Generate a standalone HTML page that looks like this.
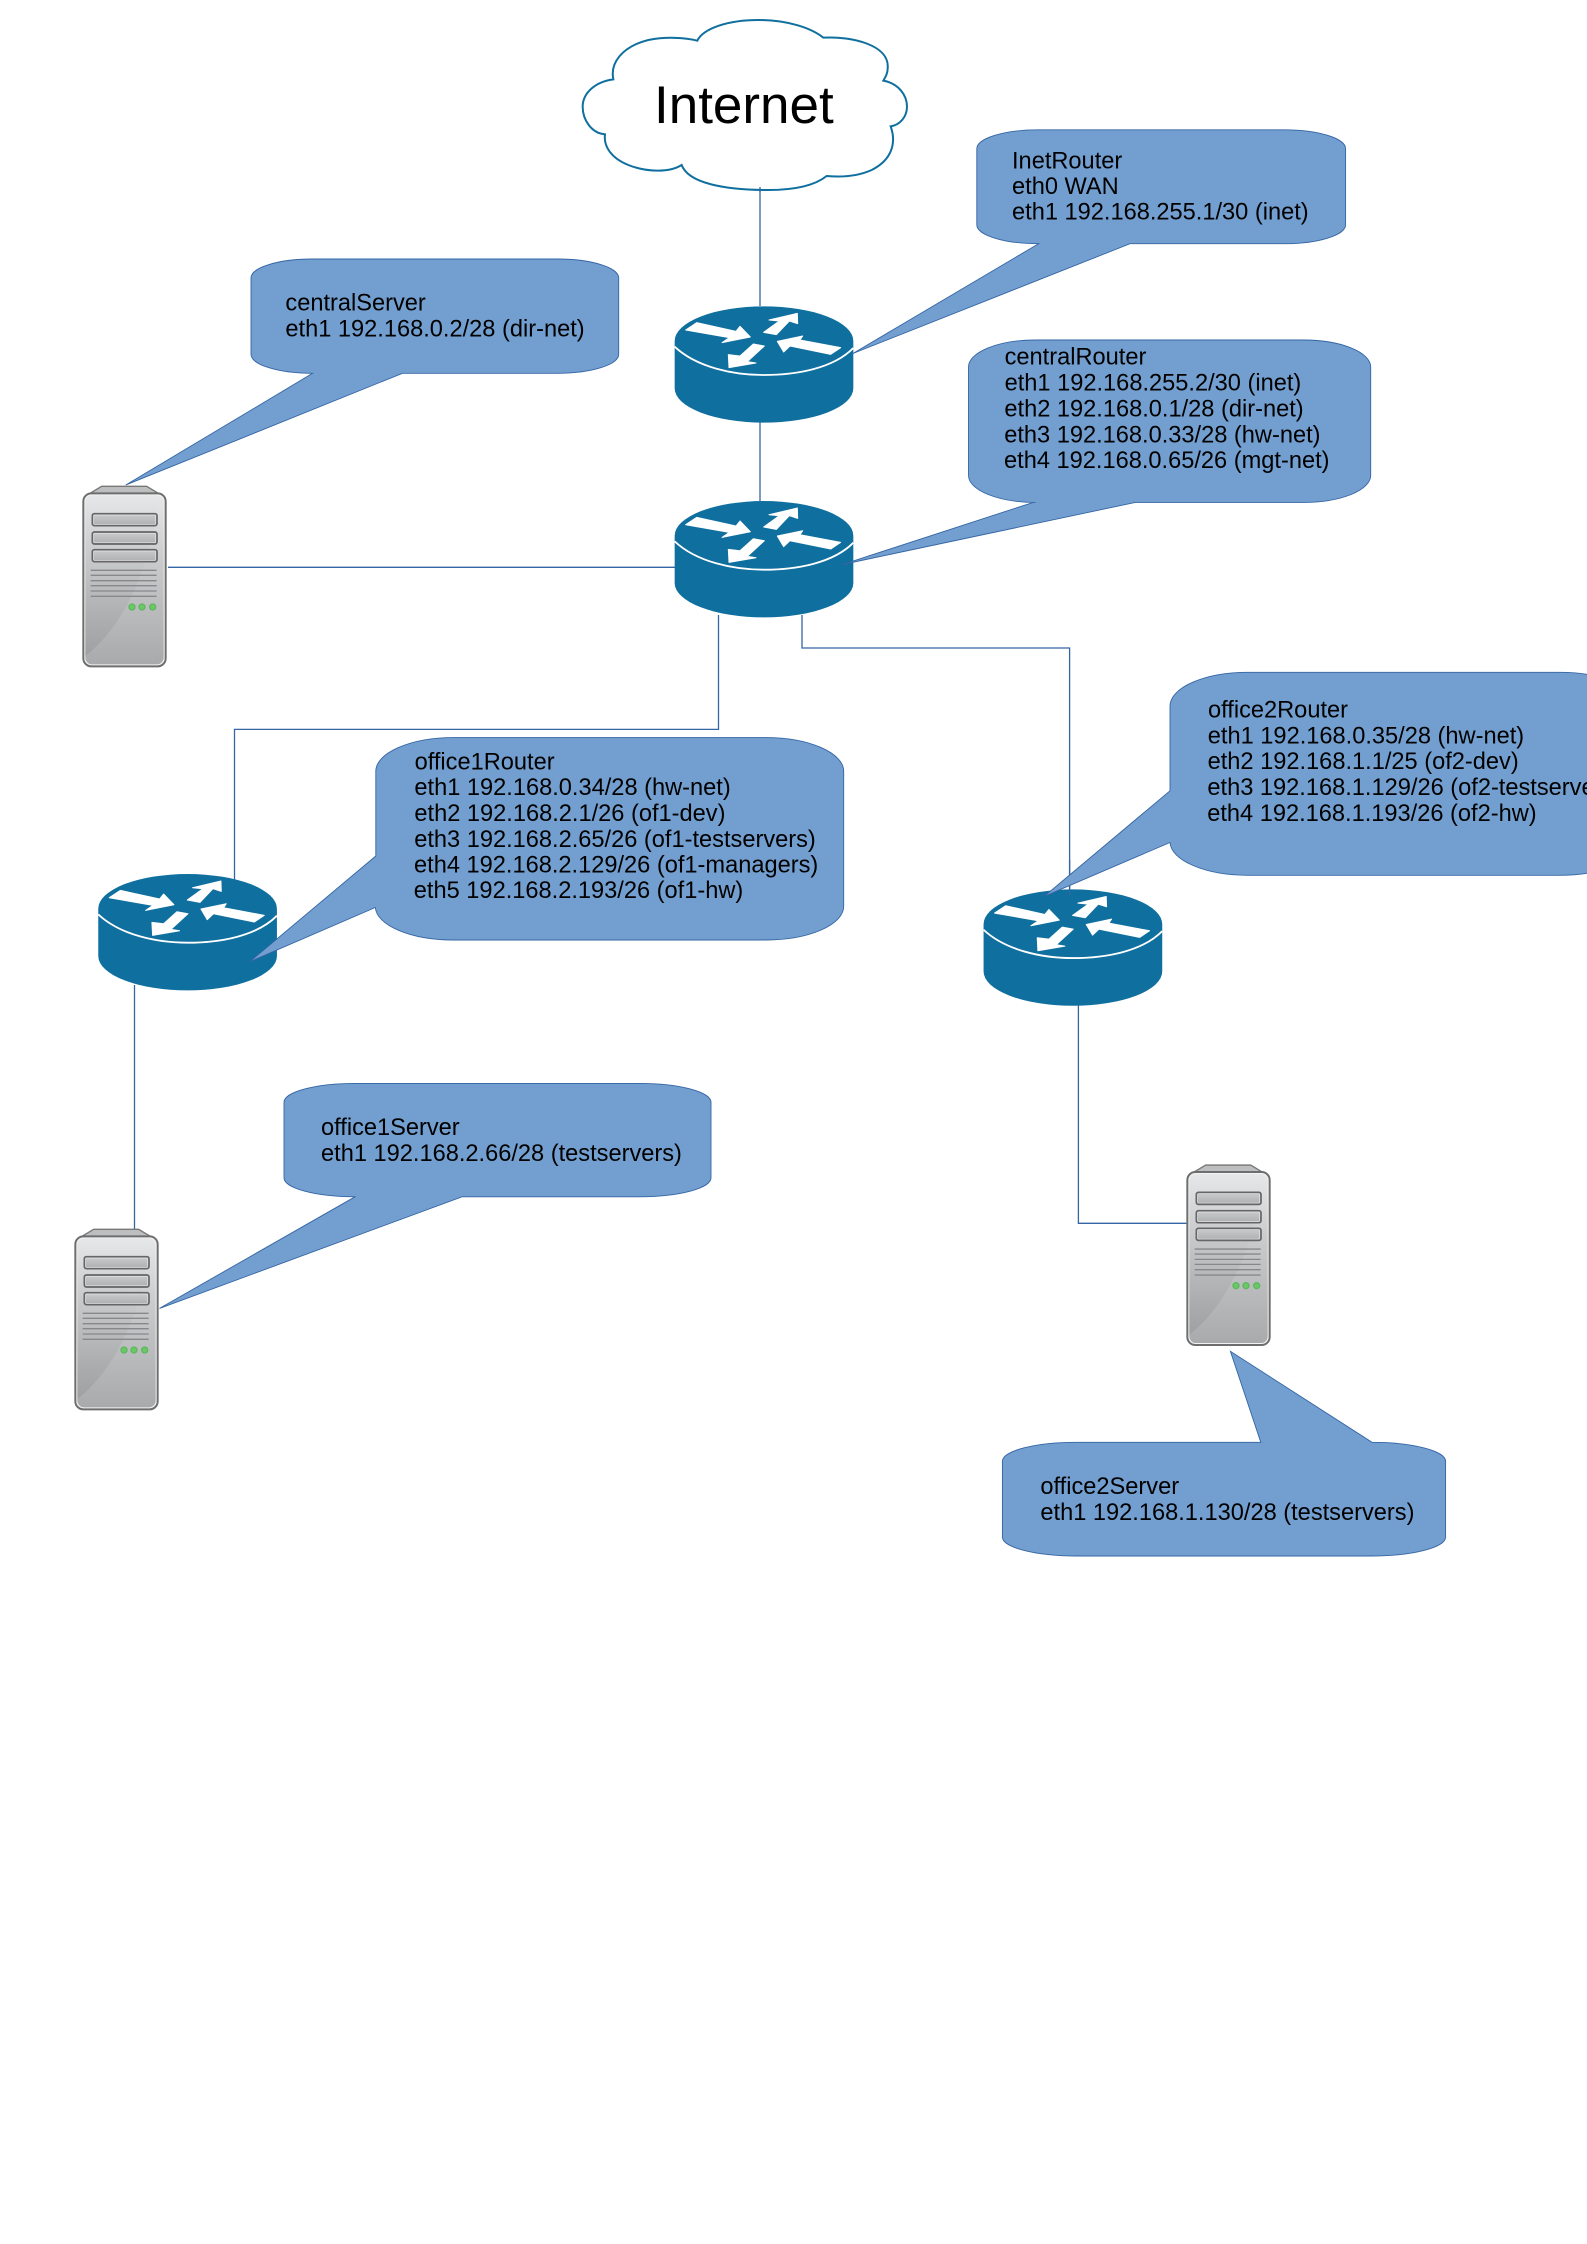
<!DOCTYPE html>
<html>
<head>
<meta charset="utf-8">
<title>Network diagram</title>
<style>
html,body{margin:0;padding:0;background:#fff;}
svg{display:block;}
.t{font-family:"Liberation Sans",sans-serif;font-size:23.62px;fill:#000;}
.b{fill:#729fcf;stroke:#3465a4;stroke-width:.9;}
.l{fill:none;stroke:#3465a4;stroke-width:1.3;}
</style>
</head>
<body>
<svg width="1587" height="2244" viewBox="0 0 1587 2244" xmlns="http://www.w3.org/2000/svg">
<defs>
<linearGradient id="sb" x1="0" y1="0" x2="0" y2="1">
<stop offset="0" stop-color="#e6e7e9"/><stop offset=".4" stop-color="#c9cacc"/><stop offset="1" stop-color="#a9aaac"/>
</linearGradient>
<linearGradient id="sw" x1="0" y1="0" x2="0" y2="1">
<stop offset="0" stop-color="#808183" stop-opacity="0"/><stop offset=".45" stop-color="#808183" stop-opacity=".05"/><stop offset="1" stop-color="#808183" stop-opacity=".28"/>
</linearGradient>
<linearGradient id="bay" x1="0" y1="0" x2="0" y2="1">
<stop offset="0" stop-color="#cbccce"/><stop offset="1" stop-color="#adaeb0"/>
</linearGradient>
<g id="router" transform="scale(.33333)">
<path fill="#0f6f9e" d="M44 153 A268 104 0 0 1 580 153 V295 A268 103 0 0 1 44 295 Z"/>
<path fill="none" stroke="#fff" stroke-width="5.5" d="M44 170 C110 232 220 255 312 255 C410 255 520 235 580 174"/>
<g fill="#fff" stroke="#fff" stroke-width="3" stroke-linejoin="round">
<path d="M77 120 L110 98 L228 124 L240 109 L271 141 L186 158 L208 143 Z"/>
<path d="M311 127 L358 93 L327 90 L412 70 L413 101 L388 93 L349 134 Z"/>
<path d="M352 154 L428 138 L420 150 L542 173 L512 193 L390 168 L371 186 Z"/>
<path d="M313 168 L280 162 L240 198 L205 194 L207 233 L288 219 L262 215 Z"/>
</g>
</g>
<g id="server" transform="scale(.33333)">
<path fill="#bdbec0" stroke="#777" stroke-width="4" d="M60 40 L95 19 L230 19 L265 40 Z"/>
<rect x="40" y="40" width="247" height="519" rx="24" ry="24" fill="#f2f2f3" stroke="#6e6e6e" stroke-width="6"/>
<rect x="46" y="46" width="235" height="507" rx="20" ry="20" fill="url(#sb)"/>
<path fill="url(#sw)" d="M46 528 C140 455 240 300 265 46 H66 Q46 46 46 66 Z"/>
<g fill="url(#bay)" stroke="#666" stroke-width="5">
<rect x="67" y="101" width="194" height="36" rx="6"/>
<rect x="67" y="156" width="194" height="36" rx="6"/>
<rect x="67" y="209" width="194" height="36" rx="6"/>
</g>
<g fill="none" stroke="#e4e4e5" stroke-width="2">
<rect x="71" y="105" width="186" height="28" rx="3"/>
<rect x="71" y="160" width="186" height="28" rx="3"/>
<rect x="71" y="213" width="186" height="28" rx="3"/>
</g>
<g stroke="#87888a" stroke-width="4">
<path d="M62 271H260M62 286H260M62 302H260M62 317H260M62 333H260M62 349H260"/>
</g>
<g fill="#6cc766" stroke="#5cb95c" stroke-width="4">
<circle cx="186" cy="381" r="9"/><circle cx="216" cy="381" r="9"/><circle cx="248" cy="381" r="9"/>
</g>
</g>
</defs>

<rect width="1587" height="2244" fill="#fff"/>

<!-- connectors -->
<path class="l" d="M760 187V306M760 422V501M168 567.3H675M718.5 615V729.4H234.5V880M802 615V648H1069.6V896M134.5 985V1229M1078.4 1005V1223.3H1186.4"/>

<!-- cloud -->
<g transform="translate(575 10) scale(.33333)">
<path fill="#fff" stroke="#0f6f9e" stroke-width="6" stroke-linejoin="miter" d="M367 92 C385 55 460 30 550 30 C640 30 710 55 745 83 C830 78 945 105 938 175 C938 190 932 200 925 212 C970 220 996 255 996 290 C996 320 975 345 947 349 C965 400 950 450 890 480 C850 498 800 502 755 498 C715 530 650 540 580 540 C450 540 340 520 320 465 C280 490 210 485 160 465 C110 445 85 410 90 373 C50 370 23 330 23 290 C23 250 60 215 115 208 C105 160 140 110 220 90 C270 80 330 82 367 92 Z"/>
</g>
<path class="l" d="M760 187V192"/>
<text x="654" y="123" font-family="Liberation Sans, sans-serif" font-size="53" fill="#000">Internet</text>

<!-- servers -->
<use href="#server" transform="translate(70 480)"/>
<use href="#server" transform="translate(62 1223)"/>
<use href="#server" transform="translate(1174 1158.7)"/>

<!-- routers -->
<use href="#router" transform="translate(660 290)"/>
<use href="#router" transform="translate(660 484.7)"/>
<use href="#router" transform="translate(83.6 857.7)"/>
<use href="#router" transform="translate(968.9 873.1)"/>

<!-- line over office2 router -->
<path class="l" d="M1069.6 860V896"/>

<!-- callouts -->
<path class="b" d="M1038.6 243.7 L852.9 353.5 L1130 243.7 H1284.1 A61.5 19 0 0 0 1345.6 224.7 V148.8 A61.5 19 0 0 0 1284.1 129.8 H1038.3 A61.5 19 0 0 0 976.8 148.8 V224.7 A61.5 19 0 0 0 1038.3 243.7 Z"/>
<path class="b" d="M1033.3 502.4 L842.4 564.5 L1135.3 502.4 H1303.7 A67 27 0 0 0 1370.7 475.4 V367 A67 27 0 0 0 1303.7 340 H1035.5 A67 27 0 0 0 968.5 367 V475.4 A67 27 0 0 0 1035.5 502.4 Z"/>
<path class="b" d="M312.6 373.3 L125.8 485 L402.5 373.3 H557.4 A61.3 19 0 0 0 618.7 354.3 V278 A61.3 19 0 0 0 557.4 259 H312.3 A61.3 19 0 0 0 251 278 V354.3 A61.3 19 0 0 0 312.3 373.3 Z"/>
<path class="b" d="M375.8 856 L249.8 961.7 L375.3 907.5 A78 33.7 0 0 0 453.3 940 H765.7 A78 33.7 0 0 0 843.7 906.3 V771.3 A78 33.7 0 0 0 765.7 737.6 H453.8 A78 33.7 0 0 0 375.8 771.3 Z"/>
<path class="b" d="M355 1196.8 L159.5 1308.4 L462 1196.8 H640 A71 19 0 0 0 711 1177.8 V1102.4 A71 19 0 0 0 640 1083.4 H355 A71 19 0 0 0 284 1102.4 V1177.8 A71 19 0 0 0 355 1196.8 Z"/>
<path class="b" d="M1170 790.8 L1044 896.5 L1170 842.5 A78 33.8 0 0 0 1248 875.3 H1560 A78 33.8 0 0 0 1638 841.5 V706.1 A78 33.8 0 0 0 1560 672.3 H1248 A78 33.8 0 0 0 1170 706.1 Z"/>
<path class="b" d="M1260.8 1442.3 L1230.4 1351.3 L1372 1442.3 A74 19 0 0 1 1445.6 1461.3 V1537 A74 19 0 0 1 1371.6 1556 H1076.4 A74 19 0 0 1 1002.4 1537 V1461.3 A74 19 0 0 1 1076.4 1442.3 Z"/>

<!-- labels -->
<text class="t" x="1012" y="168.4">InetRouter</text>
<text class="t" x="1012" y="194">eth0 WAN</text>
<text class="t" x="1012" y="219.5">eth1 192.168.255.1/30 (inet)</text>

<text class="t" x="1004.6" y="364.5">centralRouter</text>
<text class="t" x="1004.6" y="390.3">eth1 192.168.255.2/30 (inet)</text>
<text class="t" x="1004.4" y="416.3">eth2 192.168.0.1/28 (dir-net)</text>
<text class="t" x="1004.2" y="442.3">eth3 192.168.0.33/28 (hw-net)</text>
<text class="t" x="1004" y="468">eth4 192.168.0.65/26 (mgt-net)</text>

<text class="t" x="285.4" y="310.7">centralServer</text>
<text class="t" x="285.4" y="336.7">eth1 192.168.0.2/28 (dir-net)</text>

<text class="t" x="414.6" y="769.3">office1Router</text>
<text class="t" x="414.4" y="795.2">eth1 192.168.0.34/28 (hw-net)</text>
<text class="t" x="414.4" y="821">eth2 192.168.2.1/26 (of1-dev)</text>
<text class="t" x="414.2" y="846.8">eth3 192.168.2.65/26 (of1-testservers)</text>
<text class="t" x="414" y="872.5">eth4 192.168.2.129/26 (of1-managers)</text>
<text class="t" x="413.8" y="898.2">eth5 192.168.2.193/26 (of1-hw)</text>

<text class="t" x="321" y="1135">office1Server</text>
<text class="t" x="321" y="1161">eth1 192.168.2.66/28 (testservers)</text>

<text class="t" x="1208" y="717.5">office2Router</text>
<text class="t" x="1207.8" y="743.6">eth1 192.168.0.35/28 (hw-net)</text>
<text class="t" x="1207.6" y="769">eth2 192.168.1.1/25 (of2-dev)</text>
<text class="t" x="1207.4" y="795">eth3 192.168.1.129/26 (of2-testservers)</text>
<text class="t" x="1207.2" y="820.8">eth4 192.168.1.193/26 (of2-hw)</text>

<text class="t" x="1040.4" y="1493.9">office2Server</text>
<text class="t" x="1040.4" y="1520">eth1 192.168.1.130/28 (testservers)</text>
</svg>
</body>
</html>
